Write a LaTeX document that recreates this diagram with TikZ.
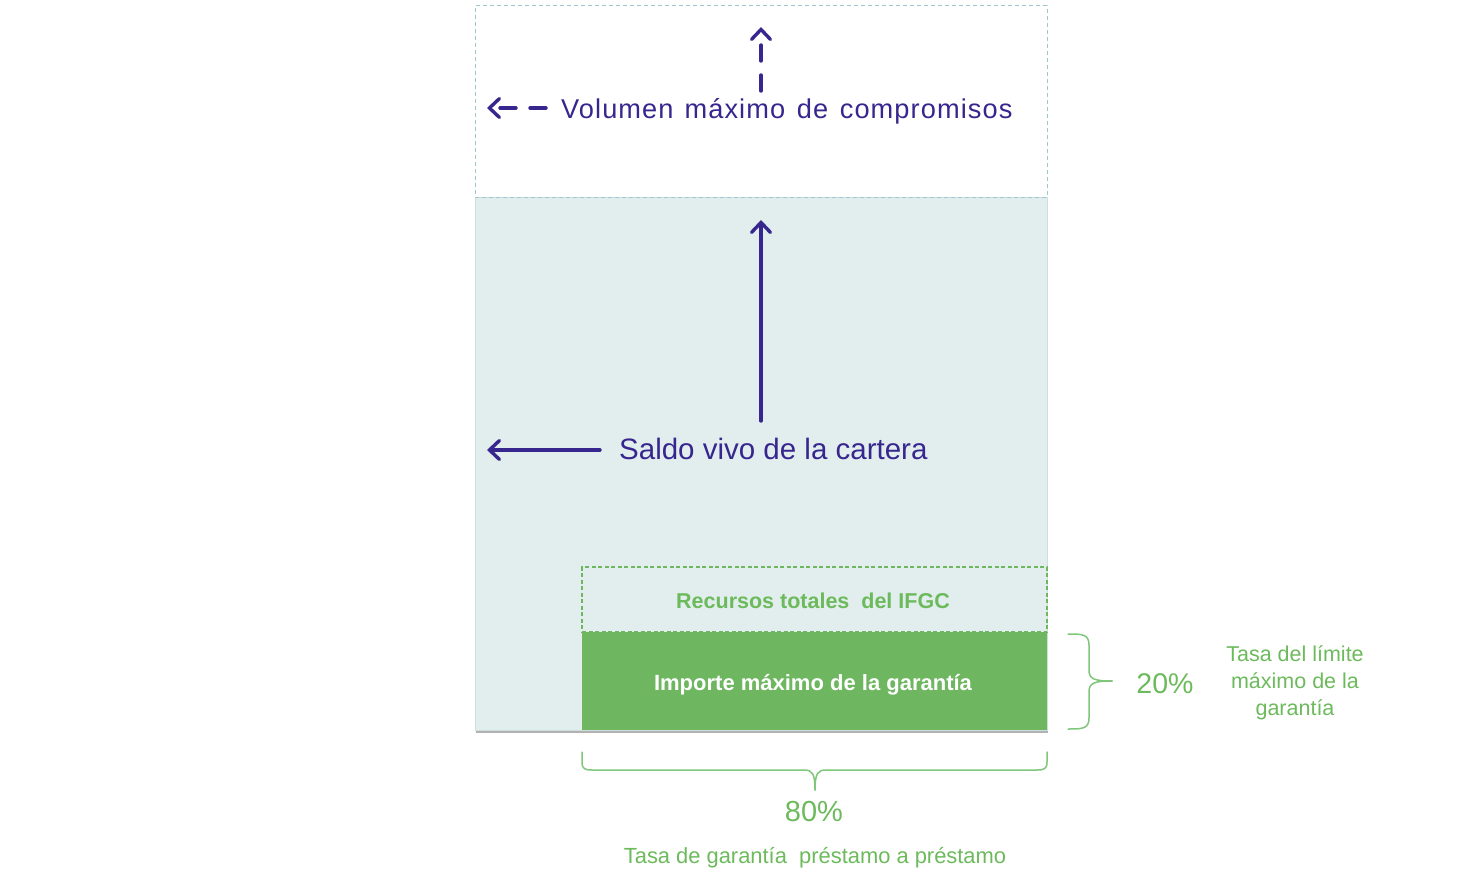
\documentclass[tikz,border=0pt]{standalone}
\usepackage{fontspec}
\setmainfont{Liberation Sans}
\usetikzlibrary{arrows.meta,shadows}
\definecolor{purp}{RGB}{55,38,142}
\definecolor{grn}{RGB}{110,183,96}
\definecolor{grntxt}{RGB}{108,186,92}
\definecolor{brc}{RGB}{128,198,122}
\definecolor{pale}{RGB}{226,238,238}
\definecolor{paleedge}{RGB}{205,222,223}
\definecolor{dashc}{RGB}{158,199,206}
\tikzset{
  boxbase/.style={anchor=north west, inner sep=0pt, outer sep=0pt, rectangle},
  arr/.style={draw=purp, line width=3.4pt, line cap=round,
    -{Straight Barb[length=10pt,width=19pt,line cap=round]}},
  dasharr/.style={arr, dash pattern=on 16pt off 14pt},
  brace/.style={draw=brc, line width=1.5pt, line cap=round},
  purptext/.style={text=purp, inner sep=0pt, anchor=base west},
  grntext/.style={text=grntxt, inner sep=0pt, anchor=base},
}
\begin{document}
\begin{tikzpicture}[x=1pt,y=-1pt]
\useasboundingbox (0,0) rectangle (1475,872);
% boxes
\node[boxbase, fill=pale, draw=paleedge, line width=0.8pt, minimum width=572pt, minimum height=533pt,
  drop shadow={shadow xshift=0.6pt, shadow yshift=-3pt, fill=black!55, opacity=0.55}] (main) at (475,197) {};
\node[boxbase, draw=dashc, line width=1pt, dash pattern=on 4pt off 3pt, minimum width=572pt, minimum height=191pt] (topbox) at (475,6) {};
\node[boxbase, fill=grn, minimum width=465pt, minimum height=98pt] (gbox) at (582,632) {};
\node[boxbase, draw=grn, line width=1.2pt, dash pattern=on 4pt off 2.5pt, minimum width=465pt, minimum height=65pt] (rbox) at (582,567) {};
% texts
\node[purptext, font=\fontsize{27.2}{32}\selectfont\addfontfeatures{LetterSpace=4}] (vol) at (561,118.5) {Volumen\hspace{11pt}máximo\hspace{3pt} de\hspace{3pt} compromisos};
\node[purptext, font=\fontsize{29.5}{35}\selectfont] (saldo) at (619,459) {Saldo vivo de la cartera};
\node[grntext, font=\fontsize{21.5}{26}\selectfont\bfseries] (rec) at (813,608.5) {Recursos totales\ \ del IFGC};
\node[text=white, inner sep=0pt, anchor=base, font=\fontsize{22}{26}\selectfont\bfseries] (imp) at (813,690) {Importe máximo de la garantía};
\node[grntext, font=\fontsize{28.5}{34}\selectfont] (p20) at (1165,693) {20\%};
\node[text=grntxt, inner sep=0pt, align=center, font=\fontsize{21.5}{27}\selectfont] (tasa1) at (1295,683) {Tasa del límite\\máximo de la\\garantía};
\node[grntext, font=\fontsize{29}{34}\selectfont] (p80) at (814,821) {80\%};
\node[grntext, font=\fontsize{21.9}{26}\selectfont] (tasa2) at (815,863) {Tasa de garantía\ \ préstamo a préstamo};
% arrows
\coordinate (vdtop) at (761,27);
\coordinate (vdbot) at (761,91);
\coordinate (hdleft) at (487,108);
\coordinate (hdright) at (546,108);
\coordinate (vstop) at (761,220);
\coordinate (vsbot) at (761,421);
\coordinate (hsleft) at (487,450);
\coordinate (hsright) at (600,450);
\draw[dasharr] (vdbot) -- (vdtop);
\draw[dasharr] (hdright) -- (hdleft);
\draw[arr] (vsbot) -- (vstop);
\draw[arr] (hsright) -- (hsleft);
% right brace
\draw[brace] (1068,634) .. controls (1082,634) and (1089,634) .. (1089,645) -- (1089,670)
  .. controls (1089,679) and (1094,681) .. (1112,681);
\draw[brace] (1068,729) .. controls (1082,729) and (1089,729) .. (1089,718) -- (1089,692)
  .. controls (1089,683) and (1094,681) .. (1112,681);
% bottom brace
\draw[brace] (582,752) -- (582,762) .. controls (582,769) and (585,770) .. (592,770) -- (804,770)
  .. controls (812,770) and (815,773) .. (815,790);
\draw[brace] (1047,752) -- (1047,762) .. controls (1047,769) and (1044,770) .. (1037,770) -- (826,770)
  .. controls (818,770) and (815,773) .. (815,790);
\end{tikzpicture}
\end{document}
